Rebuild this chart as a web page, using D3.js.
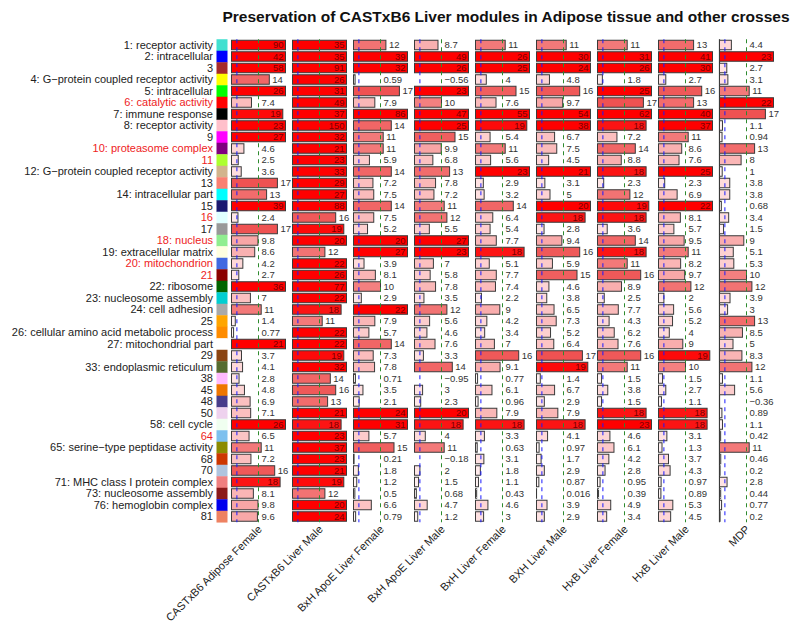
<!DOCTYPE html>
<html>
<head>
<meta charset="utf-8">
<script src="https://cdn.jsdelivr.net/npm/d3@7"></script>
<style>
  body { margin: 0; background: #ffffff; }
  svg { display: block; font-family: "Liberation Sans", Arial, Helvetica, sans-serif; }
</style>
</head>
<body>
<div id="svg-container"></div>
<script>
// #Data
const moduleLabels = ['1: receptor activity', '2: intracellular', '3', '4: G\u2212protein coupled receptor activity',
  '5: intracellular', '6: catalytic activity', '7: immune response', '8: receptor activity', '9',
  '10: proteasome complex', '11', '12: G\u2212protein coupled receptor activity', '13', '14: intracellular part',
  '15', '16', '17', '18: nucleus', '19: extracellular matrix', '20: mitochondrion', '21', '22: ribosome',
  '23: nucleosome assembly', '24: cell adhesion', '25', '26: cellular amino acid metabolic process',
  '27: mitochondrial part', '29', '33: endoplasmic reticulum', '38', '45', '48', '50', '58: cell cycle', '64',
  '65: serine\u2212type peptidase activity', '68', '70', '71: MHC class I protein complex',
  '73: nucleosome assembly', '76: hemoglobin complex', '81'];
const redModules = ['6', '10', '11', '16', '18', '20', '21', '64'];
const moduleColors = ['turquoise', 'blue', 'brown', 'yellow', 'lime', 'red', 'black', 'pink', 'magenta',
  'purple', 'greenyellow', 'tan', 'salmon', 'cyan', 'midnightblue', 'lightcyan', '#999999', 'lightgreen',
  'lightyellow', 'royalblue', 'darkred', 'darkgreen', 'darkturquoise', 'darkgrey', 'orange', 'darkorange',
  'white', '#8B4513', '#556B2F', '#FFBBFF', '#EE7600', '#483D8B', '#EED2EE', '#F0FFF0', '#7EC0EE',
  '#8B8B00', '#CD3700', '#B0C4DE', '#F08080', '#8B1A1A', '#0000EE', '#EE8262'];
const columnNames = ['CASTxB6 Adipose Female', 'CASTxB6 Liver Male', 'BxH ApoE Liver Female',
  'BxH ApoE Liver Male', 'BxH Liver Female', 'BXH Liver Male', 'HxB Liver Female', 'HxB Liver Male', 'MDP'];

const castAdiposeFemale = [90, 42, 58, 14, 26, 7.4, 19, 23, 27, 4.6, 2.5, 3.6, 17, 13, 39, 2.4, 17, 9.8, 8.6, 4.2, 2.7,
  36, 7, 11, 1.4, 0.77, 21, 3.7, 4.1, 2.8, 4.8, 6.9, 7.1, 26, 6.5, 11, 7.2, 16, 18, 8.1, 9.8, 9.6];
const castLiverMale = [35, 35, 91, 26, 31, 49, 37, 150, 32, 21, 23, 33, 29, 27, 88, 16, 19, 20, 12, 22, 26,
  77, 22, 18, 11, 22, 22, 19, 32, 14, 16, 13, 21, 18, 23, 37, 23, 21, 19, 12, 20, 24];
const bxhApoeFemale = [12, 39, 32, 0.59, 17, 7.9, 86, 14, 11, 11, 5.9, 14, 7.2, 7.5, 14, 7.5, 5.2, 20, 27, 3.9, 8.1,
  10, 2.9, 22, 7.9, 5.7, 14, 7.3, 7.8, 0.71, 3.5, 2.1, 24, 31, 5.7, 15, 0.21, 1.8, 1.2, 0.5, 6.6, 0.79];
const bxhApoeMale = [8.7, 49, 26, -0.56, 23, 10, 47, 25, 15, 9.9, 6.8, 13, 7.8, 7.2, 11, 12, 5.5, 27, 23, 7, 5.8,
  7.8, 3.5, 12, 5.6, 4.6, 7.6, 3.3, 14, -0.95, 3, 2.3, 20, 18, 4, 11, -0.18, 2, 1.5, 0.68, 4.7, 1.2];
const bxhFemale = [11, 26, 25, 4, 15, 7.6, 55, 19, 5.4, 11, 5.6, 23, 2.9, 3.2, 14, 6.4, 5.4, 7.7, 18, 5.1, 7.7,
  7.4, 2.2, 9, 4.2, 3.4, 7, 16, 9.1, 0.77, 6.1, 0.96, 7.9, 18, 3.3, 0.63, 3.1, 1.8, 1.1, 0.43, 4.6, 3];
const bxhMale = [11, 30, 24, 4.8, 16, 9.7, 54, 38, 6.7, 7.5, 4.5, 21, 3.1, 5, 20, 18, 2.8, 9.4, 16, 5.9, 15,
  4.6, 3.8, 6.5, 7.3, 5.2, 6.4, 17, 19, 1.4, 6.7, 2.9, 7.9, 18, 4.1, 0.97, 1.7, 2.9, 0.87, 0.016, 3.9, 2.9];
const hxbFemale = [11, 31, 26, 1.8, 25, 17, 62, 18, 7.2, 14, 8.8, 18, 2.3, 12, 19, 18, 3.6, 14, 18, 11, 16,
  8.9, 2.5, 7.7, 4.3, 6.2, 7.6, 16, 11, 1.5, 3.8, 1.5, 18, 23, 4.6, 6.1, 4.2, 2.8, 0.95, 0.39, 4.9, 3.4];
const hxbMale = [13, 41, 30, 2.7, 16, 13, 40, 37, 11, 8.6, 7.6, 25, 2.3, 6.9, 22, 8.1, 5.7, 9.5, 11, 8.2, 9.7,
  12, 2, 5.6, 5.2, 4, 9, 19, 10, 1.5, 2.7, 1.1, 18, 18, 3.1, 1.3, 3.7, 4.3, 0.97, 0.89, 5.3, 4.5];
const mdp = [4.4, 23, 2.7, 3.1, 11, 22, 17, 1.1, 0.94, 13, 8, 1, 3.8, 3.8, 0.68, 3.4, 1.5, 9, 5.1, 5.3, 10,
  12, 3.9, 3, 13, 8.5, 5, 8.3, 12, 1.1, 5.6, -0.36, 0.89, 1.1, 0.42, 11, 0.46, 0.2, 2.8, 0.44, 0.77, 0.2];

const columnValues = [castAdiposeFemale, castLiverMale, bxhApoeFemale, bxhApoeMale, bxhFemale, bxhMale,
  hxbFemale, hxbMale, mdp];

// #Set SVG dimensions
const w = 800;
const h = 629;
const rowStep = 11.5;
const top0 = 39.25;
const colLeft = 231.5;
const colStep = 61;
const barHeight = 9.5;

const svg = d3.select('#svg-container')
              .append('svg')
              .attr('width', w)
              .attr('height', h);

// #Scales
const yScale = d3.scaleBand()
                 .domain(d3.range(moduleLabels.length))
                 .range([top0, top0 + moduleLabels.length * rowStep]);
const xScale = d3.scaleBand()
                 .domain(columnNames)
                 .range([colLeft, colLeft + columnNames.length * colStep]);
const barScale = d3.scaleLinear()
                   .domain([0, 20])
                   .range([0, 54])
                   .clamp(true);
const fillScale = d3.scaleLinear()
                    .domain([0, 2, 5, 9.99, 10, 17.99, 18, 20])
                    .range(['#ffffff', '#ffe9e9', '#fdd2d2', '#f8a4a4', '#f48080', '#ee4c4c', '#fc1414', '#ff0000'])
                    .clamp(true);

// #Title
svg.append('text')
   .attr('x', colLeft + columnNames.length * colStep / 2)
   .attr('y', 22)
   .attr('text-anchor', 'middle')
   .attr('font-size', 15.5)
   .attr('font-weight', 'bold')
   .attr('fill', '#111')
   .text('Preservation of CASTxB6 Liver modules in Adipose tissue and other crosses');

// #Row labels and module colour boxes
const labelNum = d => d.split(':')[0];
svg.append('g')
   .selectAll('text')
   .data(moduleLabels)
   .enter()
   .append('text')
   .attr('x', 213)
   .attr('y', (d, i) => yScale(i) + rowStep / 2)
   .attr('dy', '0.35em')
   .attr('text-anchor', 'end')
   .attr('font-size', 11)
   .attr('fill', d => redModules.includes(labelNum(d)) ? '#ee1c24' : '#222')
   .text(d => d);

svg.append('g')
   .selectAll('rect')
   .data(moduleColors)
   .enter()
   .append('rect')
   .attr('x', 216.5)
   .attr('y', (d, i) => yScale(i))
   .attr('width', 11)
   .attr('height', yScale.bandwidth() + 0.3)
   .attr('fill', d => d);

// #Columns
const fmt = v => String(v).replace('-', '\u2212');
columnNames.forEach((name, c) => {
  const vals = columnValues[c];
  const g = svg.append('g')
               .attr('transform', 'translate(' + xScale(name) + ',0)');
  if (name === 'MDP') {
    g.append('line')
     .attr('x1', 0).attr('x2', 0)
     .attr('y1', yScale(0)).attr('y2', yScale(vals.length - 1) + rowStep)
     .attr('stroke', '#333')
     .attr('stroke-width', 1.2);
  }
  g.selectAll('rect')
   .data(vals.map((v, i) => ({v, i})).filter(d => d.v > 0))
   .enter()
   .append('rect')
   .attr('x', 0)
   .attr('y', d => yScale(d.i) + (rowStep - barHeight) / 2)
   .attr('width', d => barScale(d.v))
   .attr('height', barHeight)
   .attr('fill', d => fillScale(d.v))
   .attr('stroke', '#3a3a3a')
   .attr('stroke-width', 1);
  // reference lines at 2 and 10
  [[2, '#1a1aff'], [10, '#2e8b2e']].forEach(([t, col]) => {
    g.append('line')
     .attr('x1', barScale(t)).attr('x2', barScale(t))
     .attr('y1', yScale(0)).attr('y2', yScale(vals.length - 1) + rowStep)
     .attr('stroke', col)
     .attr('stroke-width', 1)
     .attr('stroke-dasharray', '4,4');
  });
  g.selectAll('text')
   .data(vals.map((v, i) => ({v, i})))
   .enter()
   .append('text')
   .attr('x', d => d.v >= 18 ? barScale(d.v) - 2 : barScale(Math.max(d.v, 10)) + 3)
   .attr('y', d => yScale(d.i) + rowStep / 2)
   .attr('dy', '0.35em')
   .attr('text-anchor', d => d.v >= 18 ? 'end' : 'start')
   .attr('font-size', 9.5)
   .attr('fill', d => d.v >= 18 ? '#7a0000' : '#333')
   .text(d => fmt(d.v));
  // column label
  svg.append('text')
     .attr('transform', 'translate(' + (xScale(name) + 31) + ',' + 530 + ') rotate(-45)')
     .attr('text-anchor', 'end')
     .attr('font-size', 11)
     .attr('fill', '#222')
     .text(name);
});
</script>
</body>
</html>
